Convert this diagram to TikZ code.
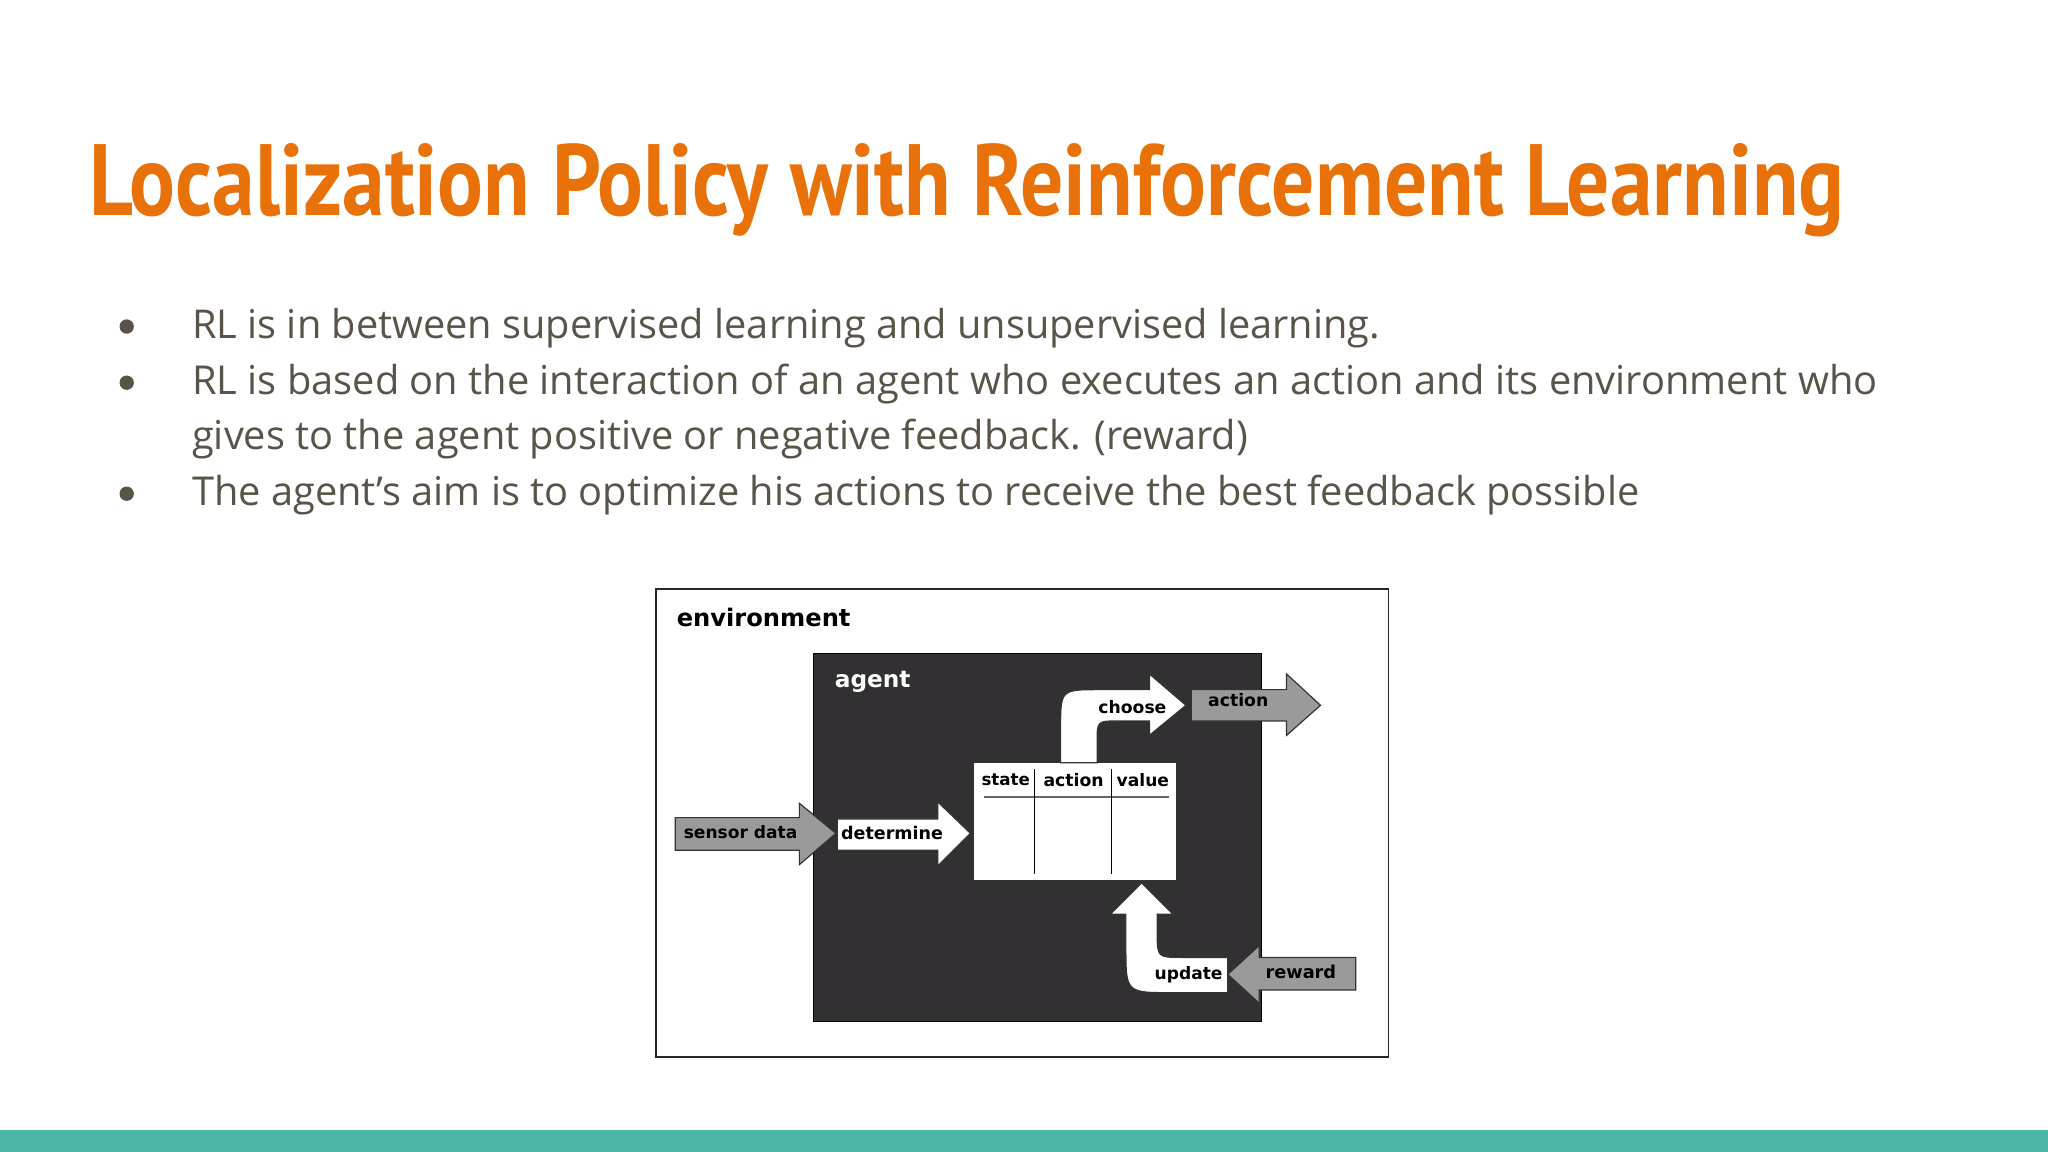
\documentclass[tikz,border=0pt]{standalone}
\usepackage{fontspec}
\usepackage{graphicx}
\setmainfont{Open Sans}
\newfontfamily\titlefont{PT Sans}
\newfontfamily\dfont{DejaVu Sans}
\newlength\dunit \setlength\dunit{1.306pt}
\definecolor{titleorange}{HTML}{E8710A}
\definecolor{bodygray}{HTML}{595447}
\definecolor{teal}{HTML}{4DB6A6}
\definecolor{agentfill}{HTML}{333033}
\definecolor{arrowgray}{HTML}{9A9A9A}
\newcommand{\fitw}[2]{\resizebox{#1\dunit}{!}{#2}}
\tikzset{
  bodytext/.style={anchor=base west,inner sep=0pt,text=bodygray},
  dlabel/.style={inner sep=0pt,font=\dfont\bfseries},
  garrow/.style={fill=arrowgray,draw=black!80,line width=1.2pt,line join=miter},
  warrow/.style={fill=white,draw=black!80,line width=1.2pt,line join=miter},
}
\begin{document}
\begin{tikzpicture}[x=1.306pt,y=-1.306pt]
\useasboundingbox (0,0) rectangle (1568,882);
\fill[white] (0,0) rectangle (1568,882);
\fill[teal] (0,865) rectangle (1568,882);
% title
\node[anchor=base west,inner sep=0pt,text=titleorange] (title) at (68,165)
  {\resizebox{1755pt}{72pt}{\titlefont\bfseries Localization Policy with Reinforcement Learning}};
% bullets
\foreach \yy/\nm in {259/b1,302/b2,387/b4}{\fill[bodygray] (97,\yy-9) circle (5.5);}
\node[bodytext] (l1) at (147,259) {\fitw{909}{RL is in between supervised learning and unsupervised learning.}};
\node[bodytext] (l2) at (147,302) {\fitw{1290}{RL is based on the interaction of an agent who executes an action and its environment who}};
\node[bodytext] (l3) at (147,344) {\fitw{808}{gives to the agent positive or negative feedback. (reward)}};
\node[bodytext] (l4) at (147,387) {\fitw{1108}{The agent’s aim is to optimize his actions to receive the best feedback possible}};
% diagram
\draw[black!85,line width=1.8pt,fill=white] (502,451) rectangle (1063,809);
\node[dlabel,anchor=west] (env) at (518,473) {\fitw{133}{environment}};
\fill[agentfill,draw=black,line width=1pt] (623,500) rectangle (966,782);
\node[dlabel,anchor=west,text=white] (agent) at (639,522) {\fitw{58}{agent}};
% table
\draw[fill=white,draw=black!80,line width=1pt] (745,584) rectangle (901,674);
\draw[black!60,line width=2.2pt] (753,610) -- (895,610);
\draw[black,line width=1.3pt] (792,589) -- (792,669) (851,589) -- (851,669);
\node[dlabel] (hs) at (770,597) {\fitw{37}{state}};
\node[dlabel] (ha) at (822,597) {\fitw{46}{action}};
\node[dlabel] (hv) at (875,597) {\fitw{40}{value}};
% sensor data
\draw[garrow] (517,626) -- (612,626) -- (612,615) -- (640,638) -- (612,662) -- (612,651) -- (517,651) -- cycle;
\node[dlabel] (sd) at (567,637) {\fitw{87}{sensor data}};
% determine
\draw[warrow] (641,627) -- (718,627) -- (718,614) -- (743,638) -- (718,663) -- (718,651) -- (641,651) -- cycle;
\node[dlabel] (det) at (683,638) {\fitw{78}{determine}};
% choose
\draw[warrow] (812,584) -- (812,558) .. controls (812,528) and (812,528) .. (842,528) -- (880,528) -- (880,516) -- (908,540) -- (880,563) -- (880,552) -- (856,552) .. controls (840,552) and (840,552) .. (840,568) -- (840,584) -- cycle;
\node[dlabel] (ch) at (867,541) {\fitw{52}{choose}};
% action
\draw[garrow] (912,528) -- (985,528) -- (985,516) -- (1011,540) -- (985,563) -- (985,552) -- (912,552) -- cycle;
\node[dlabel] (act) at (948,536) {\fitw{46}{action}};
% update
\draw[warrow] (940,733) -- (905,733) .. controls (886,733) and (886,733) .. (886,714) -- (886,700) -- (898,700) -- (874,676) -- (850,700) -- (862,700) -- (862,725) .. controls (862,760) and (862,760) .. (897,760) -- (940,760) -- cycle;
\node[dlabel] (upd) at (910,746) {\fitw{52}{update}};
% reward
\draw[garrow] (1038,733) -- (964,733) -- (964,724) -- (940,746) -- (964,768) -- (964,758) -- (1038,758) -- cycle;
\node[dlabel] (rew) at (996,744) {\fitw{54}{reward}};
\end{tikzpicture}
\end{document}
